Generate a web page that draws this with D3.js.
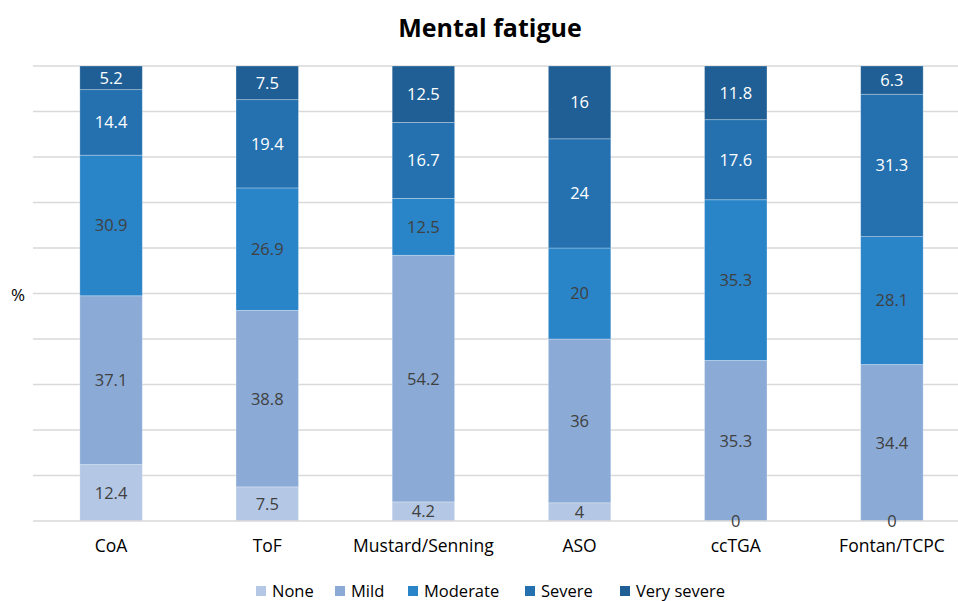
<!DOCTYPE html>
<html>
<head>
<meta charset="utf-8">
<script src="https://cdn.jsdelivr.net/npm/d3@7"></script>
<style>
  html, body { margin: 0; padding: 0; background: #fff; }
  svg { display: block; font-family: "Open Sans", "Noto Sans", sans-serif; }
</style>
</head>
<body>
<svg id="chart" width="958" height="601"></svg>
<script>
// Mental fatigue by diagnosis group (% of patients)
const categories = ["CoA", "ToF", "Mustard/Senning", "ASO", "ccTGA", "Fontan/TCPC"];
const levels = ["None", "Mild", "Moderate", "Severe", "Very severe"];
const none      = [12.4, 7.5, 4.2, 4, 0, 0];
const mild      = [37.1, 38.8, 54.2, 36, 35.3, 34.4];
const moderate  = [30.9, 26.9, 12.5, 20, 35.3, 28.1];
const severe    = [14.4, 19.4, 16.7, 24, 17.6, 31.3];
const verySev   = [5.2, 7.5, 12.5, 16, 11.8, 6.3];
const yTicks    = [0, 10, 20, 30, 40, 50, 60, 70, 80, 90, 100];

const colors = ["#b4c7e4", "#8babd6", "#2a84c8", "#2571af", "#1f5f95"];
const textColors = ["#404040", "#404040", "#404040", "#ffffff", "#ffffff"];

const rows = categories.map((c, i) => ({
  cat: c,
  "None": none[i], "Mild": mild[i], "Moderate": moderate[i],
  "Severe": severe[i], "Very severe": verySev[i]
}));

const svg = d3.select("#chart");
const W = 958;

const x = d3.scaleBand().domain(categories).range([33, 970]).paddingInner(0.6).paddingOuter(0.3);
const y = d3.scaleLinear().domain([0, 100]).range([521, 66]);

// horizontal gridlines
svg.append("g").selectAll("line").data(yTicks.slice(1)).join("line")
  .attr("x1", 33).attr("x2", W)
  .attr("y1", d => y(d)).attr("y2", d => y(d))
  .attr("stroke", "#d9d9d9").attr("stroke-width", 1.5);

// title
svg.append("text").attr("x", 490).attr("y", 37).attr("text-anchor", "middle")
  .attr("font-size", 25).attr("font-weight", 700).attr("fill", "#000")
  .text("Mental fatigue");

// y axis caption
svg.append("text").attr("x", 18).attr("y", 301).attr("text-anchor", "middle")
  .attr("font-size", 17).attr("fill", "#000").text("%");

const series = d3.stack().keys(levels)(rows);

const layers = svg.append("g").selectAll("g").data(series).join("g")
  .attr("fill", (d, i) => colors[i]);

layers.selectAll("rect").data(d => d).join("rect")
  .attr("x", d => x(d.data.cat))
  .attr("width", x.bandwidth())
  .attr("y", d => y(Math.min(d[1], 100)))
  .attr("height", d => Math.max(0, y(d[0]) - y(Math.min(d[1], 100))))
  .attr("stroke", "rgba(255,255,255,0.35)").attr("stroke-width", 0.8);

// baseline
svg.append("line").attr("x1", 33).attr("x2", W).attr("y1", y(0)).attr("y2", y(0))
  .attr("stroke", "#d9d9d9").attr("stroke-width", 1.5);

// segment value labels
series.forEach((s, i) => {
  svg.append("g").selectAll("text").data(s).join("text")
    .attr("x", d => x(d.data.cat) + x.bandwidth() / 2)
    .attr("y", d => (y(d[0]) + y(Math.min(d[1], 100))) / 2)
    .attr("dy", "0.36em")
    .attr("text-anchor", "middle")
    .attr("font-size", 16.5)
    .attr("fill", textColors[i])
    .text(d => d.data[s.key]);
});

// category axis
const xAxis = svg.append("g").attr("transform", `translate(0,${y(0)})`)
  .call(d3.axisBottom(x).tickSize(0).tickPadding(19));
xAxis.select(".domain").remove();
xAxis.selectAll("text").attr("font-size", 17.5).attr("fill", "#000")
  .attr("font-family", "'Open Sans', 'Noto Sans', sans-serif");

// legend
const legendX = [256, 335, 408, 525, 620];
const leg = svg.append("g").selectAll("g").data(levels).join("g")
  .attr("transform", (d, i) => `translate(${legendX[i]},586)`);
leg.append("rect").attr("width", 10).attr("height", 10).attr("fill", (d, i) => colors[i]);
leg.append("text").attr("x", 16).attr("y", 5).attr("dy", "0.36em")
  .attr("font-size", 16.5).attr("fill", "#000").text(d => d);
</script>
</body>
</html>
